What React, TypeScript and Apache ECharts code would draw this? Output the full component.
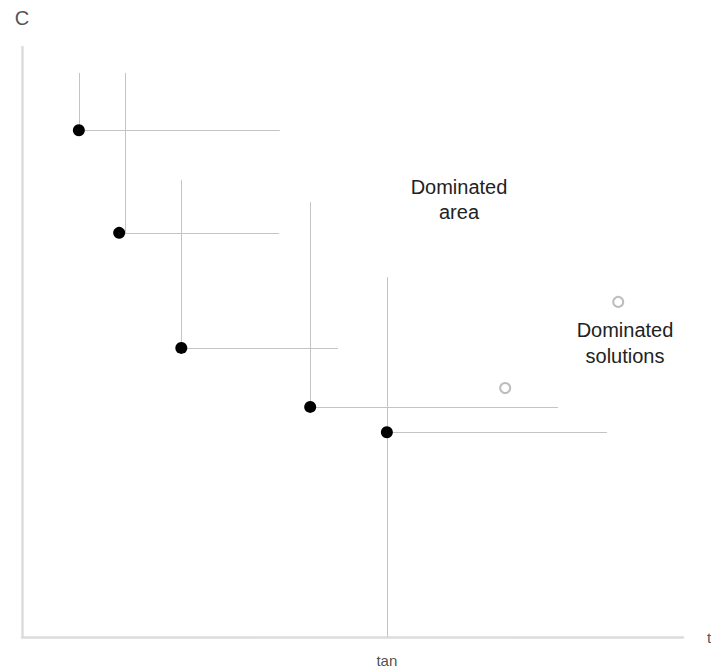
import React, { useEffect, useRef } from "react";
import * as echarts from "echarts";

// Pareto (non-dominated) solutions
const paretoX = [8.6, 14.7, 24.1, 43.6, 55.2];
const paretoY = [85.9, 68.5, 49.0, 39.0, 34.7];
// Dominance cone: x of the vertical line, its top, its bottom, end of the horizontal line
const coneX = [8.6, 15.6, 24.1, 43.6, 55.2];
const coneTop = [95.6, 95.6, 77.5, 73.7, 61.0];
const coneBottom = [85.9, 68.5, 49.0, 39.0, 0];
const coneRight = [39.0, 38.9, 47.8, 81.1, 88.5];
// Dominated solutions
const dominatedX = [73.1, 90.2];
const dominatedY = [42.2, 56.8];
// Labels
const yAxisName = "C";
const xAxisName = "t";
const markerLabel = "tan";
const markerIndex = 4;
const areaText = "Dominated\narea";
const solutionsText = "Dominated\nsolutions";

export default function App() {
  const ref = useRef<HTMLDivElement>(null);
  useEffect(() => {
    if (!ref.current) return;
    const chart = echarts.init(ref.current, undefined, { renderer: "svg" });
    const segs: any[] = [];
    paretoX.forEach((x, i) => {
      segs.push({ coords: [[coneX[i], coneTop[i]], [coneX[i], coneBottom[i]]] });
      segs.push({ coords: [[x, paretoY[i]], [coneRight[i], paretoY[i]]] });
    });
    const font = "'Liberation Sans', Arial, sans-serif";
    chart.setOption({
      animation: false,
      backgroundColor: "#ffffff",
      grid: {
        left: 22,
        right: 28,
        top: 47,
        bottom: 32,
        containLabel: false,
        outerBoundsMode: "none",
      },
      xAxis: {
        type: "value",
        min: 0,
        max: 100,
        name: xAxisName,
        nameLocation: "end",
        nameGap: 24,
        nameTextStyle: { color: "#555", fontSize: 15, fontFamily: font },
        axisLine: { show: true, lineStyle: { color: "#dcdcdc", width: 2.5 } },
        axisTick: { show: false },
        axisLabel: { show: false },
        splitLine: { show: false },
      },
      yAxis: {
        type: "value",
        min: 0,
        max: 100,
        name: yAxisName,
        nameLocation: "end",
        nameGap: 19,
        nameTextStyle: { color: "#555", fontSize: 20, fontFamily: font, align: "center" },
        axisLine: { show: true, lineStyle: { color: "#dcdcdc", width: 2.5 } },
        axisTick: { show: false },
        axisLabel: { show: false },
        splitLine: { show: false },
      },
      series: [
        {
          type: "lines",
          coordinateSystem: "cartesian2d",
          data: segs,
          lineStyle: { color: "#c4c4c4", width: 1, opacity: 1 },
          z: 1,
          silent: true,
        },
        {
          type: "scatter",
          data: paretoX.map((x, i) => [x, paretoY[i]]),
          symbol: "circle",
          symbolSize: 12,
          itemStyle: { color: "#000", opacity: 1 },
          z: 3,
        },
        {
          type: "scatter",
          data: dominatedX.map((x, i) => [x, dominatedY[i]]),
          symbol: "emptyCircle",
          symbolSize: 10,
          itemStyle: { color: "#bdbdbd", borderWidth: 1.5, opacity: 1 },
          z: 3,
        },
        {
          type: "scatter",
          data: [[paretoX[markerIndex], 0]],
          symbolSize: 0,
          label: {
            show: true,
            position: "bottom",
            distance: 16,
            formatter: markerLabel,
            color: "#222",
            fontSize: 15,
            fontFamily: font,
          },
          z: 3,
        },
      ],
      graphic: [
        {
          type: "text",
          x: 459,
          y: 199,
          style: {
            text: areaText,
            fill: "#222",
            font: `20px ${font}`,
            textAlign: "center",
            textVerticalAlign: "middle",
            lineHeight: 25,
          },
        },
        {
          type: "text",
          x: 625,
          y: 343,
          style: {
            text: solutionsText,
            fill: "#222",
            font: `20px ${font}`,
            textAlign: "center",
            textVerticalAlign: "middle",
            lineHeight: 26,
          },
        },
      ],
    });
    return () => chart.dispose();
  }, []);
  return (
    <div
      ref={ref}
      style={{ position: "fixed", left: 0, top: 0, width: 711, height: 669 }}
    />
  );
}
